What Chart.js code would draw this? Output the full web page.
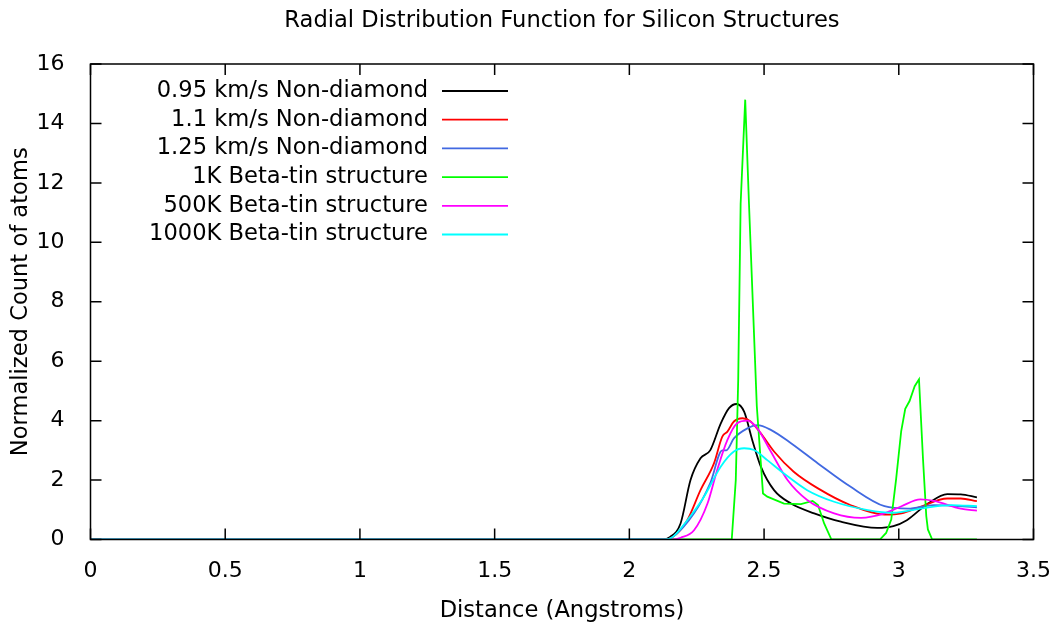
<!DOCTYPE html>
<html>
<head>
<meta charset="utf-8">
<script src="https://cdn.jsdelivr.net/npm/chart.js@4.4.1/dist/chart.umd.min.js"></script>
<style>
  html, body { margin: 0; padding: 0; background: #fff; }
  #box { width: 1057px; height: 627px; }
</style>
</head>
<body>
<div id="box"><canvas id="myChart"></canvas></div>
<script>
// valeurs (distance en Angstroms, g(r) normalisé)
const seriesNames = ['0.95 km/s Non-diamond', '1.1 km/s Non-diamond', '1.25 km/s Non-diamond',
  '1K Beta-tin structure', '500K Beta-tin structure', '1000K Beta-tin structure'];
const seriesColors = ['#000000', '#ff0000', '#4169e1', '#00ff00', '#ff00ff', '#00ffff'];

const distBlack = [0, 2.12, 2.15, 2.19, 2.227, 2.264, 2.30, 2.339, 2.37, 2.398, 2.426, 2.456, 2.488, 2.537, 2.60, 2.686, 2.785, 2.92, 2.98, 3.03, 3.108, 3.18, 3.23, 3.29];
const rdfBlack  = [0, 0, 0.08, 0.54, 2.0, 2.73, 3.0, 3.9, 4.42, 4.56, 4.3, 3.35, 2.45, 1.66, 1.21, 0.88, 0.6, 0.39, 0.45, 0.65, 1.21, 1.53, 1.52, 1.42];

const distRed = [0, 2.13, 2.16, 2.215, 2.264, 2.314, 2.345, 2.364, 2.388, 2.42, 2.45, 2.488, 2.537, 2.61, 2.70, 2.82, 2.947, 3.01, 3.08, 3.18, 3.23, 3.29];
const rdfRed  = [0, 0, 0.08, 0.65, 1.66, 2.56, 3.46, 3.63, 3.97, 4.08, 3.97, 3.57, 2.96, 2.28, 1.72, 1.16, 0.84, 0.88, 1.1, 1.38, 1.38, 1.29];

const distBlue = [0, 2.13, 2.16, 2.24, 2.30, 2.345, 2.36, 2.388, 2.438, 2.475, 2.525, 2.60, 2.70, 2.82, 2.947, 3.034, 3.13, 3.29];
const rdfBlue  = [0, 0, 0.08, 0.88, 1.89, 3.0, 3.0, 3.4, 3.74, 3.85, 3.69, 3.24, 2.56, 1.78, 1.12, 1.04, 1.16, 1.08];

const distGreen = [0, 2.38, 2.395, 2.404, 2.413, 2.43, 2.444, 2.473, 2.496, 2.512, 2.574, 2.637, 2.68, 2.70, 2.723, 2.75,
  2.93, 2.953, 2.972, 2.99, 3.009, 3.024, 3.04, 3.059, 3.075, 3.09, 3.102, 3.108, 3.124, 3.29];
const rdfGreen  = [0, 0, 2.0, 5.37, 11.3, 14.8, 11.3, 4.49, 1.55, 1.44, 1.21, 1.19, 1.3, 1.16, 0.54, 0,
  0, 0.22, 0.67, 2.02, 3.65, 4.4, 4.66, 5.16, 5.39, 2.69, 0.79, 0.34, 0, 0];

const distMagenta = [0, 2.16, 2.19, 2.24, 2.29, 2.326, 2.364, 2.40, 2.438, 2.475, 2.525, 2.587, 2.66, 2.76, 2.86, 2.947, 3.01, 3.08, 3.13, 3.23, 3.29];
const rdfMagenta  = [0, 0, 0.06, 0.31, 1.21, 2.34, 3.35, 3.91, 4.0, 3.74, 2.96, 2.0, 1.33, 0.88, 0.73, 0.88, 1.12, 1.35, 1.30, 1.04, 0.97];

const distCyan = [0, 2.13, 2.16, 2.215, 2.277, 2.339, 2.388, 2.426, 2.463, 2.512, 2.574, 2.66, 2.76, 2.885, 2.98, 3.08, 3.195, 3.29];
const rdfCyan  = [0, 0, 0.08, 0.65, 1.44, 2.45, 2.96, 3.07, 3.01, 2.67, 2.22, 1.66, 1.27, 0.99, 0.9, 1.04, 1.16, 1.12];

const xTicks = [0, 0.5, 1, 1.5, 2, 2.5, 3, 3.5];
const yTicks = [0, 2, 4, 6, 8, 10, 12, 14, 16];

const allDist = [distBlack, distRed, distBlue, distGreen, distMagenta, distCyan];
const allRdf = [rdfBlack, rdfRed, rdfBlue, rdfGreen, rdfMagenta, rdfCyan];

const police = 'DejaVu Sans, sans-serif';

// cadre, graduations internes, titre et légende façon gnuplot
const gnuplotStyle = {
  id: 'gnuplotStyle',
  afterDatasetsDraw(chart) {
    const ctx = chart.ctx;
    const a = chart.chartArea;
    const sx = chart.scales.x, sy = chart.scales.y;
    ctx.save();
    ctx.strokeStyle = '#000';
    ctx.lineWidth = 1.5;
    ctx.strokeRect(a.left, a.top, a.right - a.left, a.bottom - a.top);
    ctx.beginPath();
    xTicks.forEach(v => {
      const px = sx.getPixelForValue(v);
      ctx.moveTo(px, a.bottom); ctx.lineTo(px, a.bottom - 11);
      ctx.moveTo(px, a.top); ctx.lineTo(px, a.top + 11);
    });
    yTicks.forEach(v => {
      const py = sy.getPixelForValue(v);
      ctx.moveTo(a.left, py); ctx.lineTo(a.left + 11, py);
      ctx.moveTo(a.right, py); ctx.lineTo(a.right - 11, py);
    });
    ctx.stroke();

    ctx.fillStyle = '#000';
    ctx.font = '22.6px ' + police;
    ctx.textBaseline = 'middle';
    ctx.textAlign = 'center';
    ctx.fillText('Radial Distribution Function for Silicon Structures', (a.left + a.right) / 2, 21);
    ctx.fillText('Distance (Angstroms)', (a.left + a.right) / 2, 611);
    ctx.save();
    ctx.translate(21, (a.top + a.bottom) / 2);
    ctx.rotate(-Math.PI / 2);
    ctx.fillText('Normalized Count of atoms', 0, 0);
    ctx.restore();

    // légende
    ctx.textAlign = 'right';
    chart.data.datasets.forEach((ds, i) => {
      const y = 91 + i * 28.7;
      ctx.fillStyle = '#000';
      ctx.fillText(ds.label, 428, y);
      ctx.strokeStyle = ds.borderColor;
      ctx.lineWidth = 1.8;
      ctx.beginPath();
      ctx.moveTo(442, y); ctx.lineTo(508, y);
      ctx.stroke();
    });
    ctx.restore();
  }
};

var ctx = document.getElementById('myChart').getContext('2d');
var myChart = new Chart(ctx, {
  type: 'line',
  data: {
    datasets: seriesNames.map((name, i) => ({
      label: name,
      data: allDist[i].map((d, k) => ({ x: d, y: allRdf[i][k] })),
      borderColor: seriesColors[i],
      backgroundColor: seriesColors[i],
      borderWidth: 1.8,
      pointRadius: 0,
      fill: false,
      cubicInterpolationMode: i === 3 ? 'default' : 'monotone',
      tension: 0,
      order: seriesNames.length - i
    }))
  },
  options: {
    responsive: true,
    maintainAspectRatio: false,
    animation: false,
    layout: { padding: { left: 0, right: 23.5, top: 64, bottom: 0 } },
    plugins: {
      legend: { display: false },
      title: { display: false },
      tooltip: { enabled: false }
    },
    scales: {
      x: {
        type: 'linear',
        min: 0,
        max: 3.5,
        afterBuildTicks: s => { s.ticks = xTicks.map(v => ({ value: v })); },
        afterFit: s => { s.height = 87.5; s.paddingLeft = 0; s.paddingRight = 0; },
        grid: { display: false },
        border: { display: false },
        ticks: {
          padding: 11, color: '#000', font: { family: police, size: 22 },
          callback: v => String(v)
        }
      },
      y: {
        min: 0,
        max: 16,
        afterBuildTicks: s => { s.ticks = yTicks.map(v => ({ value: v })); },
        afterFit: s => { s.width = 90.5; s.paddingTop = 0; s.paddingBottom = 0; },
        grid: { display: false },
        border: { display: false },
        ticks: {
          padding: 18, color: '#000', font: { family: police, size: 22 },
          callback: v => String(v)
        }
      }
    }
  },
  plugins: [gnuplotStyle]
});
</script>
</body>
</html>
